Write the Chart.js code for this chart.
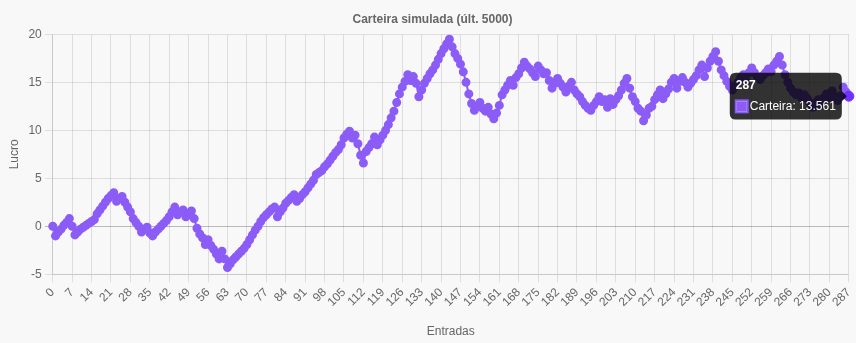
<!DOCTYPE html>
<html>
<head>
<meta charset="utf-8">
<title>Carteira simulada</title>
<script src="https://cdn.jsdelivr.net/npm/chart.js@4.4.1/dist/chart.umd.min.js"></script>
<style>
  html, body { margin: 0; padding: 0; background: #f8f8f8; overflow: hidden; }
  #wrap { position: relative; left: -5px; width: 867px; height: 343px; }
</style>
</head>
<body>
<div id="wrap"><canvas id="chart"></canvas></div>
<script>
// lucro acumulado por entrada (últimas 288 das 5000)
const profit = [
  0, -1.0, -0.6, -0.3, 0.1, 0.4, 0.8, 0.0, -0.9, -0.6,
  -0.3, -0.1, 0.1, 0.3, 0.5, 0.7, 1.3, 1.7, 2.1, 2.5,
  2.9, 3.2, 3.5, 2.6, 2.9, 3.1, 2.5, 2.0, 1.5, 0.8,
  0.4, 0.0, -0.6, -0.3, -0.1, -0.7, -1.0, -0.6, -0.3, 0.0,
  0.3, 0.6, 1.0, 1.5, 2.0, 1.2, 1.5, 1.7, 1.0, 1.3,
  1.6, 0.8, -0.2, -0.8, -1.2, -1.9, -1.4, -2.0, -2.4, -2.9,
  -3.4, -2.6, -3.4, -4.3, -3.9, -3.5, -3.2, -2.9, -2.6, -2.3,
  -1.9, -1.4, -0.9, -0.4, 0.0, 0.5, 0.9, 1.2, 1.5, 1.8,
  2.0, 1.0, 1.5, 1.9, 2.4, 2.7, 3.0, 3.3, 2.6, 2.9,
  3.3, 3.6, 4.0, 4.4, 4.8, 5.4, 5.6, 5.8, 6.2, 6.5,
  6.9, 7.3, 7.7, 8.0, 8.5, 9.2, 9.6, 9.9, 9.2, 9.5,
  8.6, 7.4, 6.6, 7.8, 8.2, 8.6, 9.3, 8.5, 9.0, 9.5,
  10.0, 10.6, 11.3, 12.0, 12.9, 13.8, 14.5, 15.1, 15.8, 15.2,
  15.6, 14.9, 13.5, 14.2, 14.9, 15.4, 15.9, 16.3, 16.8, 17.4,
  18.0, 18.5, 19.0, 19.5, 18.7, 18.0, 17.5, 16.9, 16.1, 15.0,
  13.8, 12.8, 12.1, 12.5, 12.9, 12.3, 12.0, 12.4, 11.7, 11.2,
  11.8, 12.6, 13.7, 14.2, 14.7, 15.2, 14.7, 15.5, 15.9, 16.5,
  17.1, 16.7, 16.4, 16.0, 15.6, 16.7, 16.3, 15.9, 16.0, 15.2,
  14.4, 14.9, 15.4, 14.9, 14.5, 14.0, 14.6, 15.0, 14.2, 13.8,
  13.5, 13.0, 12.6, 12.3, 12.1, 12.6, 13.0, 13.5, 13.0, 13.2,
  12.4, 13.3, 12.7, 13.2, 13.6, 14.2, 14.9, 15.4, 14.4, 13.5,
  13.0, 12.3, 12.0, 11.0, 11.6, 12.3, 12.5, 13.2, 13.7, 14.2,
  13.3, 13.8, 14.3, 15.0, 15.4, 14.4, 15.1, 15.5, 15.0, 14.5,
  14.9, 15.3, 15.7, 16.3, 16.8, 15.6, 16.5, 17.2, 17.7, 18.2,
  17.2, 16.3, 15.7, 15.1, 14.6, 14.2, 14.6, 15.0, 15.5, 15.8,
  15.2, 16.0, 16.5, 16.0, 15.6, 15.3, 15.7, 16.0, 16.4, 16.1,
  16.8, 17.2, 17.7, 16.8, 15.8, 15.0, 14.4, 14.0, 13.7, 13.9,
  13.4, 13.7, 13.3, 12.9, 12.4, 12.8, 13.2, 12.7, 13.4, 13.8,
  13.4, 14.1, 13.5, 13.1, 13.6, 14.5, 14.0, 13.561
];
const entries = profit.map((_, i) => String(i));
const tickStep = 7;

const purple = "#8b5cf6";
const ctx = document.getElementById("chart");

const chart = new Chart(ctx, {
  type: "line",
  data: {
    labels: entries,
    datasets: [
      {
        label: "Carteira",
        data: profit,
        borderColor: purple,
        backgroundColor: purple,
        borderWidth: 2,
        pointRadius: 3.5,
        pointHoverRadius: 5,
        tension: 0,
      },
    ],
  },
  options: {
    responsive: true,
    maintainAspectRatio: false,
    animation: false,
    locale: "en-US",
    layout: { padding: { left: 8 } },
    plugins: {
      legend: { display: false },
      title: {
        display: true,
        text: "Carteira simulada (últ. 5000)",
        color: "#666",
        padding: { top: 12, bottom: 8 },
      },
    },
    scales: {
      x: {
        title: { display: true, text: "Entradas", color: "#666", padding: { top: 12 } },
        afterBuildTicks: (axis) => {
          axis.ticks = axis.ticks.filter((t) => t.value % tickStep === 0);
        },
        ticks: { autoSkip: false, minRotation: 45, maxRotation: 45, color: "#666" },
        grid: { color: "rgba(0,0,0,0.1)" },
      },
      y: {
        title: { display: true, text: "Lucro", color: "#666" },
        ticks: { stepSize: 5, color: "#666" },
        grid: {
          color: (c) => (c.tick && c.tick.value === 0 ? "rgba(0,0,0,0.25)" : "rgba(0,0,0,0.1)"),
        },
      },
    },
  },
});

// tooltip fixo na última entrada, como na captura
const last = { datasetIndex: 0, index: profit.length - 1 };
const pt = chart.getDatasetMeta(0).data[last.index];
chart.setActiveElements([last]);
chart.tooltip.setActiveElements([last], { x: pt.x, y: pt.y });
chart.update();
</script>
</body>
</html>
